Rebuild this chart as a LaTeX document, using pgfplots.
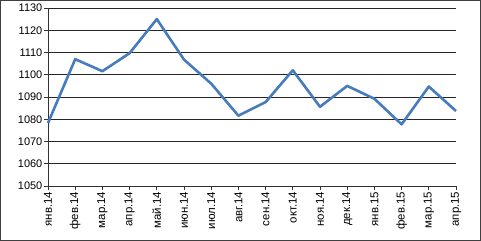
\documentclass[border=0pt]{standalone}
\usepackage{pgfplots}
\pgfplotsset{compat=1.18}
\usepackage{fontspec}
\setmainfont{Liberation Sans}
\definecolor{lineblue}{RGB}{70,123,188}
\begin{document}
\begin{tikzpicture}
\begin{axis}[
  at={(48bp,55bp)}, anchor=south west,
  scale only axis, width=408bp, height=178bp,
  xmin=0, xmax=15, ymin=1050, ymax=1130,
  ytick={1050,1060,...,1130},
  xtick={0,...,15},
  xticklabels={янв.14,фев.14,мар.14,апр.14,май.14,июн.14,июл.14,авг.14,сен.14,окт.14,ноя.14,дек.14,янв.15,фев.15,мар.15,апр.15},
  x tick label style={rotate=90, anchor=east, font=\fontsize{11.5}{13}\selectfont, inner sep=1.5bp},
  y tick label style={font=\fontsize{11}{13}\selectfont, inner sep=1.5bp},
  /pgf/number format/assume math mode=true,
  /pgf/number format/1000 sep={},
  axis x line*=bottom, axis y line*=left,
  axis line style={black!80, line width=1bp, -},
  tick align=outside, major tick length=4bp,
  tick style={black!80, line width=0.8bp},
  ymajorgrids, grid style={black!85, line width=1bp},
  clip=false,
]
\addplot[lineblue, line width=2.6bp, line join=round] coordinates {
(0,1078.3) (1,1107) (2,1101.6) (3,1109.7) (4,1125) (5,1106.8) (6,1096) (7,1081.6)
(8,1087.7) (9,1102) (10,1085.6) (11,1095) (12,1089.2) (13,1077.7) (14,1094.7) (15,1083.7)
};
\end{axis}
\draw[black!75, line width=1bp] (0.5bp,0.5bp) rectangle (480.5bp,240.5bp);
\pgfresetboundingbox
\path (0,0) rectangle (481bp,241bp);
\end{tikzpicture}
\end{document}
